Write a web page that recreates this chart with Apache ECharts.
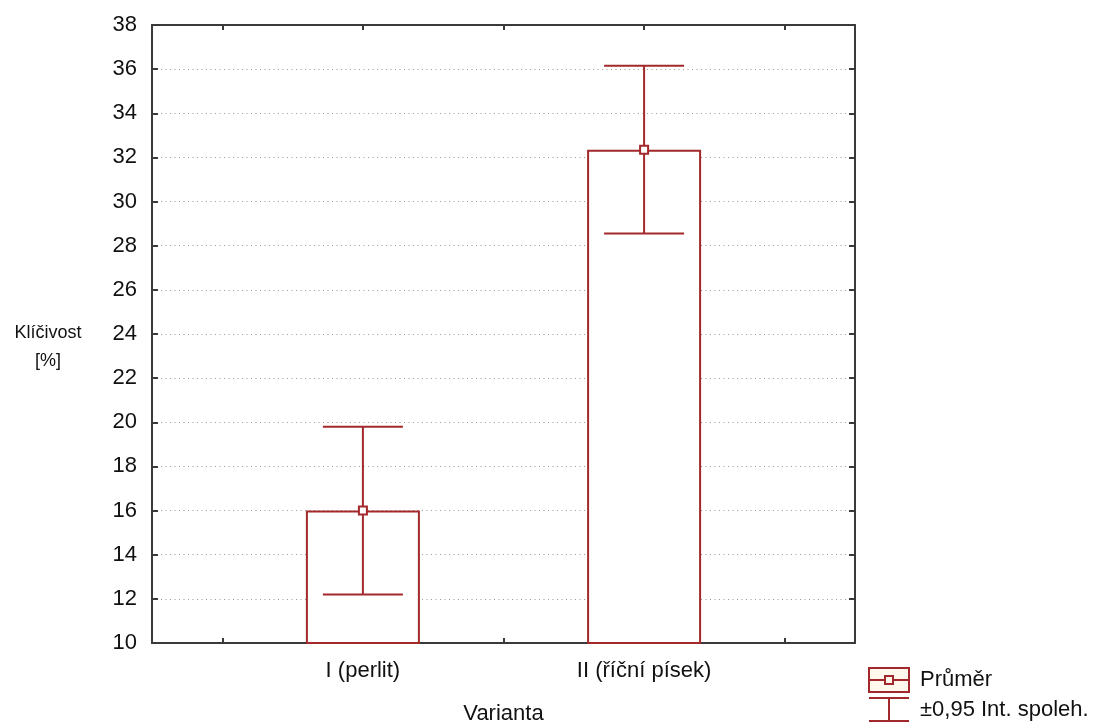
<!DOCTYPE html>
<html>
<head>
<meta charset="utf-8">
<script src="https://cdn.jsdelivr.net/npm/echarts@6/dist/echarts.min.js"></script>
<style>html,body{margin:0;padding:0;background:#fff;}#c{width:1113px;height:727px;}</style>
</head>
<body>
<div id="c"></div>
<script>
var categories = ['I (perlit)', 'II (říční písek)'];
var positions = [1, 2];
var means = [16.0, 32.35];
var lower = [12.2, 28.55];
var upper = [19.8, 36.15];
var yTicks = [10, 12, 14, 16, 18, 20, 22, 24, 26, 28, 30, 32, 34, 36, 38];

var RED = '#a3282b';
var AX = '#3a3a3a';
var FONT = '"Liberation Sans", Arial, sans-serif';

var chart = echarts.init(document.getElementById('c'));

var barData = positions.map(function (p, i) { return [p, means[i]]; });
var errData = positions.map(function (p, i) { return [p, lower[i], upper[i]]; });

var xBase = {
  type: 'value', min: 0.25, max: 2.75,
  axisLine: { show: true, lineStyle: { color: AX, width: 2 } },
  axisTick: { show: true, inside: true, length: 5, customValues: [0.5, 1, 1.5, 2, 2.5], lineStyle: { color: AX, width: 2 } },
  splitLine: { show: false }
};
var yBase = {
  type: 'value', min: 10, max: 38, interval: 2,
  axisLine: { show: true, lineStyle: { color: AX, width: 2 } },
  axisTick: { show: true, inside: true, length: 6, lineStyle: { color: AX, width: 2 } }
};

chart.setOption({
  animation: false,
  textStyle: { fontFamily: FONT },
  grid: { left: 152, top: 25, width: 703, height: 618, containLabel: false, outerBoundsMode: 'none' },
  xAxis: [
    Object.assign({}, xBase, {
      position: 'bottom',
      name: 'Varianta', nameLocation: 'middle', nameGap: 60,
      nameTextStyle: { fontSize: 22, color: '#111', fontFamily: FONT },
      axisLabel: {
        show: true, customValues: positions, margin: 17, fontSize: 22, color: '#111', fontFamily: FONT,
        formatter: function (v) { var i = positions.indexOf(v); return i >= 0 ? categories[i] : ''; }
      }
    }),
    Object.assign({}, xBase, { position: 'top', axisLabel: { show: false } })
  ],
  yAxis: [
    Object.assign({}, yBase, {
      position: 'left',
      axisLabel: { show: true, margin: 15, fontSize: 22, color: '#111', fontFamily: FONT,
        customValues: yTicks },
      splitLine: { show: true, lineStyle: { color: '#9a9a9a', width: 1, type: [1, 3.5] } }
    }),
    Object.assign({}, yBase, { position: 'right', axisLabel: { show: false }, splitLine: { show: false } })
  ],
  series: [
    {
      type: 'bar', xAxisIndex: 0, yAxisIndex: 0,
      data: barData, barWidth: 114,
      itemStyle: { color: '#ffffff', borderColor: RED, borderWidth: 2 },
      z: 2
    },
    {
      type: 'custom', xAxisIndex: 0, yAxisIndex: 0,
      data: errData,
      renderItem: function (params, api) {
        var x = api.value(0);
        var lo = api.coord([x, api.value(1)]);
        var hi = api.coord([x, api.value(2)]);
        var hw = 40;
        var st = { stroke: RED, lineWidth: 2 };
        return {
          type: 'group',
          children: [
            { type: 'line', shape: { x1: lo[0], y1: lo[1], x2: hi[0], y2: hi[1] }, style: st },
            { type: 'line', shape: { x1: hi[0] - hw, y1: hi[1], x2: hi[0] + hw, y2: hi[1] }, style: st },
            { type: 'line', shape: { x1: lo[0] - hw, y1: lo[1], x2: lo[0] + hw, y2: lo[1] }, style: st }
          ]
        };
      },
      z: 3
    },
    {
      type: 'scatter', xAxisIndex: 0, yAxisIndex: 0,
      data: barData, symbol: 'rect', symbolSize: 8,
      itemStyle: { color: '#ffffff', borderColor: RED, borderWidth: 2, opacity: 1 },
      z: 4
    }
  ],
  graphic: [
    { type: 'text', x: 48, y: 333, style: { text: 'Klíčivost', fontSize: 18, fontFamily: FONT, fill: '#111', textAlign: 'center', textVerticalAlign: 'middle' } },
    { type: 'text', x: 48, y: 361, style: { text: '[%]', fontSize: 18, fontFamily: FONT, fill: '#111', textAlign: 'center', textVerticalAlign: 'middle' } },
    { type: 'rect', shape: { x: 869, y: 668, width: 40, height: 24 }, style: { fill: '#fff8ec', stroke: RED, lineWidth: 2 } },
    { type: 'line', shape: { x1: 869, y1: 680, x2: 909, y2: 680 }, style: { stroke: RED, lineWidth: 2 } },
    { type: 'rect', shape: { x: 885, y: 676, width: 8, height: 8 }, style: { fill: '#fff8ec', stroke: RED, lineWidth: 2 } },
    { type: 'line', shape: { x1: 869, y1: 698, x2: 909, y2: 698 }, style: { stroke: RED, lineWidth: 2 } },
    { type: 'line', shape: { x1: 889, y1: 698, x2: 889, y2: 721 }, style: { stroke: RED, lineWidth: 2 } },
    { type: 'line', shape: { x1: 869, y1: 721, x2: 909, y2: 721 }, style: { stroke: RED, lineWidth: 2 } },
    { type: 'text', x: 920, y: 680, style: { text: 'Průměr', fontSize: 22, fontFamily: FONT, fill: '#111', textAlign: 'left', textVerticalAlign: 'middle' } },
    { type: 'text', x: 920, y: 710, style: { text: '±0,95 Int. spoleh.', fontSize: 22, fontFamily: FONT, fill: '#111', textAlign: 'left', textVerticalAlign: 'middle' } }
  ]
});
</script>
</body>
</html>
